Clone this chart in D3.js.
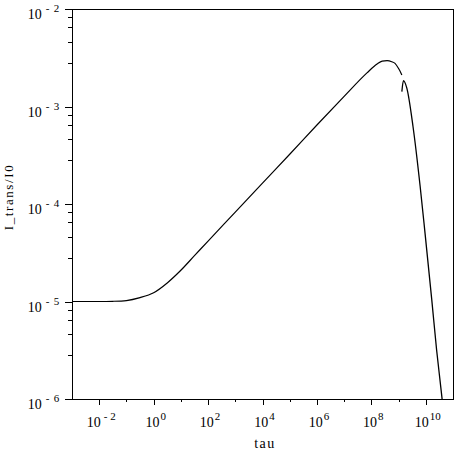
<!DOCTYPE html>
<html>
<head>
<meta charset="utf-8">
<script src="https://cdn.jsdelivr.net/npm/d3@7"></script>
<style>
  html, body { margin: 0; padding: 0; background: #fff; }
  svg { display: block; }
  text { font-family: "Liberation Serif", "Times New Roman", serif; fill: #000; }
</style>
</head>
<body>
<svg id="chart" width="459" height="459"></svg>
<script>
// ---- data ----
const xDomain = [1e-3, 1e11];
const yDomain = [1e-6, 1e-2];
const xMajorExp = [-2, 0, 2, 4, 6, 8, 10];
const xMinorExp = [-1, 1, 3, 5, 7, 9];
const yMajorExp = [-6, -5, -4, -3, -2];
const yMinorMult = [2.8, 4.6, 6.5, 8.2];
const xTitle = "tau";
const yTitle = "I_trans/I0";

// main branch: plateau, rise and peak
const tauA = [1e-3, 1e-2, 0.0316, 0.1, 0.316, 1, 3.16, 10, 31.6, 100, 1e3, 1e4, 1e5, 1e6, 1e7, 6.9e7, 1.62e8, 2.5e8, 3.8e8, 5.6e8, 7.4e8, 1e9, 1.15e9, 1.32e9];
const intA = [1.0e-5, 1.0e-5, 1.005e-5, 1.023e-5, 1.096e-5, 1.23e-5, 1.55e-5, 2.09e-5, 2.95e-5, 4.17e-5, 8.26e-5, 1.64e-4, 3.24e-4, 6.46e-4, 1.27e-3, 2.21e-3, 2.73e-3, 2.92e-3, 2.95e-3, 2.88e-3, 2.77e-3, 2.45e-3, 2.28e-3, 2.10e-3];
// falling branch after the break
const tauB = [1.32e9, 1.51e9, 2.0e9, 3.4e9, 6.2e9, 9.4e9, 1.66e10, 2.5e10, 3.9e10, 4.5e10];
const intB = [1.42e-3, 1.84e-3, 1.55e-3, 6.2e-4, 1.52e-4, 5.0e-5, 1.04e-5, 3.18e-6, 1.05e-6, 7.1e-7];

// ---- layout ----
const mLeft = 72, mRight = 453, mTop = 9, mBottom = 399;
const svg = d3.select("#chart");
const x = d3.scaleLog().domain(xDomain).range([mLeft, mRight]);
const y = d3.scaleLog().domain(yDomain).range([mBottom, mTop]);

// clip
svg.append("defs").append("clipPath").attr("id", "clip")
  .append("rect").attr("x", mLeft).attr("y", mTop)
  .attr("width", mRight - mLeft).attr("height", mBottom - mTop);

// frame
svg.append("rect").attr("x", mLeft + 0.5).attr("y", mTop + 0.5)
  .attr("width", mRight - mLeft).attr("height", mBottom - mTop)
  .attr("fill", "none").attr("stroke", "#000").attr("stroke-width", 1);

// x ticks
const gx = svg.append("g");
gx.selectAll("line.maj").data(xMajorExp).join("line")
  .attr("class", "maj")
  .attr("x1", d => Math.round(x(Math.pow(10, d))) + 0.5)
  .attr("x2", d => Math.round(x(Math.pow(10, d))) + 0.5)
  .attr("y1", mBottom).attr("y2", mBottom + 6)
  .attr("stroke", "#000");
gx.selectAll("line.min").data(xMinorExp).join("line")
  .attr("class", "min")
  .attr("x1", d => Math.round(x(Math.pow(10, d))) + 0.5)
  .attr("x2", d => Math.round(x(Math.pow(10, d))) + 0.5)
  .attr("y1", mBottom).attr("y2", mBottom + 3)
  .attr("stroke", "#000");
const xl = gx.selectAll("text").data(xMajorExp).join("text")
  .attr("x", d => x(Math.pow(10, d)) + 2)
  .attr("y", mBottom + 28)
  .attr("text-anchor", "middle")
  .attr("font-size", 14);
xl.append("tspan").text("10");
xl.append("tspan").attr("dx", d => d < 0 ? 3 : 1).attr("dy", -7).attr("font-size", 11)
  .text(d => d < 0 ? "- " + (-d) : String(d));

// y ticks
const gy = svg.append("g");
gy.selectAll("line.maj").data(yMajorExp).join("line")
  .attr("class", "maj")
  .attr("x1", mLeft - 7).attr("x2", mLeft)
  .attr("y1", d => Math.round(y(Math.pow(10, d))) + 0.5)
  .attr("y2", d => Math.round(y(Math.pow(10, d))) + 0.5)
  .attr("stroke", "#000");
const minorVals = [];
yMajorExp.slice(0, -1).forEach(e => yMinorMult.forEach(m => minorVals.push(m * Math.pow(10, e))));
gy.selectAll("line.min").data(minorVals).join("line")
  .attr("class", "min")
  .attr("x1", mLeft - 4).attr("x2", mLeft)
  .attr("y1", d => Math.round(y(d)) + 0.5)
  .attr("y2", d => Math.round(y(d)) + 0.5)
  .attr("stroke", "#000");
const yl = gy.selectAll("text").data(yMajorExp).join("text")
  .attr("x", mLeft - 12)
  .attr("y", d => y(Math.pow(10, d)) + 10)
  .attr("text-anchor", "end")
  .attr("font-size", 14);
yl.append("tspan").text("10");
yl.append("tspan").attr("dx", 4).attr("dy", -7).attr("font-size", 11)
  .attr("letter-spacing", 0.8)
  .text(d => "- " + (-d));

// titles
svg.append("text").attr("x", 265).attr("y", 448)
  .attr("text-anchor", "middle").attr("font-size", 14)
  .attr("letter-spacing", 1.5).text(xTitle);
svg.append("text").attr("transform", "translate(13,197) rotate(-90)")
  .attr("text-anchor", "middle").attr("font-size", 13)
  .attr("letter-spacing", 1.6).text(yTitle);

// curve
const line = d3.line()
  .x(d => x(d[0])).y(d => y(d[1]))
  .curve(d3.curveMonotoneX);
const plot = svg.append("g").attr("clip-path", "url(#clip)");
plot.append("path").datum(d3.zip(tauA, intA))
  .attr("d", line).attr("fill", "none").attr("stroke", "#000").attr("stroke-width", 1.2);
plot.append("path").datum(d3.zip(tauB, intB))
  .attr("d", line).attr("fill", "none").attr("stroke", "#000").attr("stroke-width", 1.3);
</script>
</body>
</html>
